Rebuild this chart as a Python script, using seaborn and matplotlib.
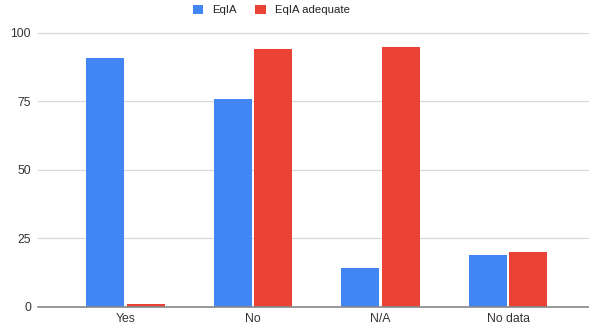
import matplotlib
matplotlib.use("Agg")
import matplotlib.pyplot as plt
import seaborn as sns
import pandas as pd
from matplotlib.patches import Patch

categories = ["Yes", "No", "N/A", "No data"]
eqia = [91, 76, 14, 19]
eqia_adequate = [1, 94, 95, 20]
series_names = ["EqIA", "EqIA adequate"]
y_ticks = [0, 25, 50, 75, 100]

df = pd.DataFrame({
    "category": categories * 2,
    "value": eqia + eqia_adequate,
    "series": [series_names[0]] * len(categories) + [series_names[1]] * len(categories),
})

sns.set_theme(style="white")
plt.rcParams["font.family"] = ["Liberation Sans", "DejaVu Sans"]

W, H = 589, 327
fig = plt.figure(figsize=(W / 100, H / 100), dpi=100)

# plot area in pixels
left_px, right_px = 38, 589
zero_px, hundred_px = 306.5, 33
ymax = 101
px_per_unit = (zero_px - hundred_px) / 100
top_px = zero_px - ymax * px_per_unit
ax = fig.add_axes([left_px / W, (H - zero_px) / H,
                   (right_px - left_px) / W, (zero_px - top_px) / H])

palette = {"EqIA": "#4285F4", "EqIA adequate": "#EA4335"}
sns.barplot(data=df, x="category", y="value", hue="series", palette=palette,
            width=0.63, gap=0.05, ax=ax, saturation=1, legend=False,
            linewidth=0)

step = 127.5
first_center = 125.5
ax.set_xlim((left_px - first_center) / step, (right_px - first_center) / step)
ax.set_ylim(0, ymax)
ax.set_yticks(y_ticks)
ax.set_yticklabels([str(t) for t in y_ticks])
ax.yaxis.grid(True, color="#d9d9d9", linewidth=0.9)
ax.set_axisbelow(True)
for s in ["top", "right", "left"]:
    ax.spines[s].set_visible(False)
ax.spines["bottom"].set_color("#888888")
ax.spines["bottom"].set_linewidth(1.2)
ax.tick_params(axis="both", length=0, labelsize=8.8, colors="#333333")
ax.tick_params(axis="y", pad=5)
ax.tick_params(axis="x", pad=4.5)
ax.set_xlabel("")
ax.set_ylabel("")

# legend at the top centre
handles = [Patch(facecolor=palette[n], edgecolor="none") for n in series_names]
fig.legend(handles, series_names, loc="center", bbox_to_anchor=(271.5 / W, 1 - 10 / H),
           ncol=2, frameon=False, fontsize=8.2, handlelength=0.9, handleheight=0.9,
           columnspacing=1.6, handletextpad=0.8, labelcolor="#222222",
           borderpad=0)

fig.savefig("out.png", dpi=100)
